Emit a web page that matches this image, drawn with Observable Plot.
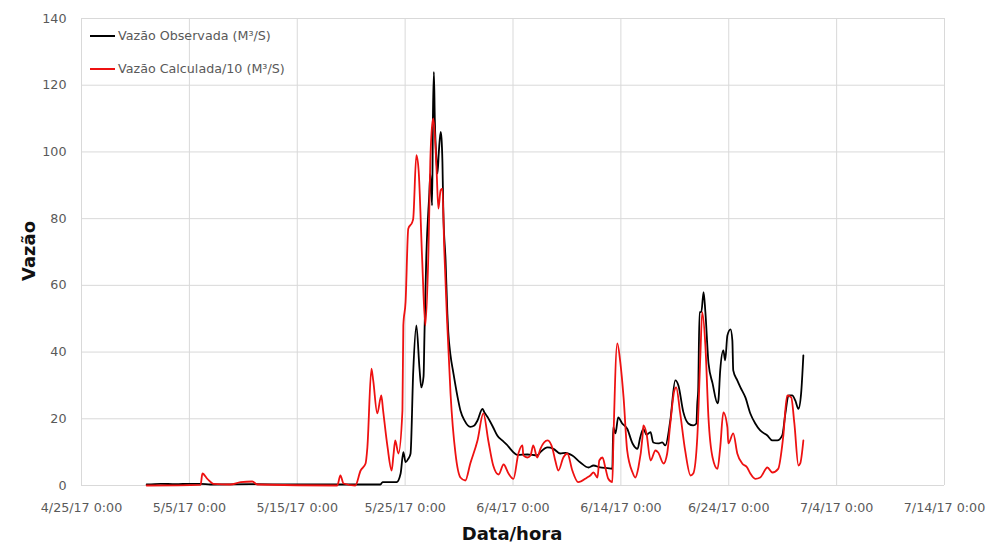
<!DOCTYPE html>
<html>
<head>
<meta charset="utf-8">
<script src="https://cdn.jsdelivr.net/npm/d3@7"></script>
<script src="https://cdn.jsdelivr.net/npm/@observablehq/plot@0.6"></script>
<style>
  body { margin: 0; background: #fff; }
  #wrap { position: relative; width: 990px; height: 544px; overflow: hidden; }
  .leg { position: absolute; left: 90px; font-family: "DejaVu Sans", sans-serif; font-size: 12.7px; color: #595959; display: flex; align-items: center; white-space: nowrap; }
  .leg i { display: inline-block; width: 25px; height: 2px; margin-right: 3px; }
  .title { position: absolute; font-family: "DejaVu Sans", sans-serif; font-weight: bold; font-size: 18px; color: #111; white-space: nowrap; }
</style>
</head>
<body>
<div id="wrap"></div>
<script>
// ---- data ----
const seriesNames = ["Vazão Observada (M³/S)", "Vazão Calculada/10 (M³/S)"];
const seriesColors = ["#000000", "#ee1111"];

const obsTimes = [
"2017-05-01 01","2017-05-02 08","2017-05-03 17","2017-05-05 02","2017-05-06 01","2017-05-06 23","2017-05-10 16","2017-05-15 07",
"2017-05-22 17","2017-05-22 22","2017-05-24 05","2017-05-24 14","2017-05-24 20","2017-05-25 01","2017-05-25 07","2017-05-25 12",
"2017-05-25 18","2017-05-26 01","2017-05-26 08","2017-05-26 12","2017-05-26 17","2017-05-26 19","2017-05-26 23","2017-05-27 06",
"2017-05-27 08","2017-05-27 12","2017-05-27 14","2017-05-27 16","2017-05-27 18","2017-05-27 22","2017-05-28 00","2017-05-28 03",
"2017-05-28 07","2017-05-28 09","2017-05-28 11","2017-05-28 13","2017-05-28 18","2017-05-28 22","2017-05-29 00","2017-05-29 05",
"2017-05-29 11","2017-05-29 20","2017-05-30 03","2017-05-30 12","2017-05-31 01","2017-05-31 10","2017-05-31 17","2017-06-01 04",
"2017-06-01 08","2017-06-01 15","2017-06-02 04","2017-06-02 13","2017-06-03 00","2017-06-03 12","2017-06-03 18","2017-06-04 10",
"2017-06-05 08","2017-06-06 06","2017-06-06 13","2017-06-07 05","2017-06-07 18","2017-06-08 09","2017-06-08 21","2017-06-09 12",
"2017-06-10 06","2017-06-11 00","2017-06-11 11","2017-06-12 02","2017-06-12 18","2017-06-13 05","2017-06-13 07","2017-06-13 12",
"2017-06-13 18","2017-06-14 03","2017-06-14 14","2017-06-15 02","2017-06-15 13","2017-06-15 19","2017-06-16 02","2017-06-16 09",
"2017-06-16 18","2017-06-17 00","2017-06-17 11","2017-06-17 20","2017-06-18 03","2017-06-18 14","2017-06-19 01","2017-06-19 08",
"2017-06-19 19","2017-06-20 06","2017-06-20 17","2017-06-21 00","2017-06-21 02","2017-06-21 04","2017-06-21 07","2017-06-21 11",
"2017-06-21 16","2017-06-21 20","2017-06-22 03","2017-06-22 12","2017-06-22 23","2017-06-23 01","2017-06-23 05","2017-06-23 12",
"2017-06-23 16","2017-06-23 21","2017-06-24 04","2017-06-24 08","2017-06-24 10","2017-06-24 19","2017-06-25 02","2017-06-25 13",
"2017-06-26 00","2017-06-26 11","2017-06-26 22","2017-06-27 14","2017-06-28 01","2017-06-28 12","2017-06-28 23","2017-06-29 06",
"2017-06-29 13","2017-06-29 21","2017-06-30 04","2017-06-30 11","2017-06-30 17","2017-06-30 22"
];
const obsValues = [
0.3,0.5,0.4,0.5,0.5,0.3,0.4,0.3,
0.3,1.0,1.0,3.6,10,7,8,9.5,
34,48,35,29.4,32.7,45,68,88,
93.5,84,112,124,110,97,93.5,100,
106,104,97,82,67.5,51.5,46,39,
34,27,22.5,19.5,17.6,18,19.5,23,
22,20.6,17.4,15,13.5,12,11,9.2,
9.3,9,10,11.4,11,9.6,9.8,9,
6.9,5.4,6,5.4,5.2,5,17.5,15.6,
20.4,18.6,17,12.6,11,14.4,17,15.2,
16,12.9,12.6,12.9,12,19.5,31.5,30,
22,18.6,18,18.6,24.6,28.5,52,52,
58,52,36.6,30.6,24.6,25.5,34.5,40.5,
37.5,45,46.8,43.5,34.5,31.5,29.4,26.4,
21.6,18.6,16.5,15,13.5,13.5,15,21.6,
27,27,25.5,23,27.6,39
];

const calcTimes = [
"2017-05-01 01","2017-05-06 01","2017-05-06 05","2017-05-06 16","2017-05-07 06","2017-05-08 19","2017-05-09 18","2017-05-10 20",
"2017-05-11 07","2017-05-18 17","2017-05-19 00","2017-05-19 07","2017-05-20 09","2017-05-20 21","2017-05-21 08","2017-05-21 12",
"2017-05-21 21","2017-05-22 01","2017-05-22 10","2017-05-22 19","2017-05-22 23","2017-05-23 09","2017-05-23 18","2017-05-23 22",
"2017-05-24 02","2017-05-24 09","2017-05-24 18","2017-05-24 20","2017-05-25 01","2017-05-25 07","2017-05-25 16","2017-05-25 18",
"2017-05-26 01","2017-05-26 06","2017-05-26 14","2017-05-26 21","2017-05-27 04","2017-05-27 08","2017-05-27 13","2017-05-27 15",
"2017-05-27 22","2017-05-28 02","2017-05-28 07","2017-05-28 11","2017-05-28 15","2017-05-28 22","2017-05-29 05","2017-05-29 16",
"2017-05-30 03","2017-05-30 14","2017-05-31 01","2017-05-31 17","2017-06-01 06","2017-06-01 17","2017-06-02 04","2017-06-02 16",
"2017-06-03 03","2017-06-03 14","2017-06-04 01","2017-06-04 12","2017-06-04 21","2017-06-04 23","2017-06-05 08","2017-06-05 15",
"2017-06-05 21","2017-06-06 06","2017-06-06 13","2017-06-07 05","2017-06-07 16","2017-06-07 22","2017-06-08 05","2017-06-08 16",
"2017-06-09 01","2017-06-09 12","2017-06-10 01","2017-06-10 21","2017-06-11 04","2017-06-11 11","2017-06-11 20","2017-06-12 00",
"2017-06-12 07","2017-06-12 14","2017-06-12 20","2017-06-13 05","2017-06-13 07","2017-06-13 16","2017-06-13 23","2017-06-14 06",
"2017-06-14 14","2017-06-15 02","2017-06-15 08","2017-06-15 15","2017-06-16 00","2017-06-16 02","2017-06-16 09","2017-06-16 18",
"2017-06-17 05","2017-06-17 11","2017-06-17 23","2017-06-18 07","2017-06-18 14","2017-06-18 23","2017-06-19 03","2017-06-19 12",
"2017-06-19 23","2017-06-20 11","2017-06-20 17","2017-06-21 02","2017-06-21 09","2017-06-21 13","2017-06-21 20","2017-06-22 03",
"2017-06-22 12","2017-06-22 23","2017-06-23 05","2017-06-23 12","2017-06-23 21","2017-06-23 23","2017-06-24 10","2017-06-24 19",
"2017-06-25 06","2017-06-25 17","2017-06-26 00","2017-06-26 11","2017-06-26 22","2017-06-27 14","2017-06-28 01","2017-06-28 14",
"2017-06-29 01","2017-06-29 10","2017-06-29 19","2017-06-30 02","2017-06-30 11","2017-06-30 15","2017-06-30 22"
];
const calcValues = [
0,0.2,3.6,2,0.5,0.3,1,1.2,
0.3,0,3,0.6,0,4.5,6.6,11.4,
35,31.5,21.6,27,22.5,11.4,4.5,9,
13.5,9.6,22.5,48,55,77,79,80,
99,94.5,67.5,48,71,97,109,110,
94.5,83,88.5,89,71,47.5,27.6,9.6,
2.4,1.5,6.6,13.5,21.6,13.5,6,3.3,
6.3,3.6,2,9.6,12,9,8.4,9,
12,8.4,11,13.5,11,7.5,4.5,8.4,
9.6,4.5,1,2.4,3,3.9,2.4,7.5,
8.4,5,2,1,11.4,42.6,36.6,26.4,
10.5,3.9,2.4,5.4,14.4,18,15.6,7.5,
10.5,9.9,6.6,9.6,18.6,28.5,29.4,21.6,
10.5,3,3.6,14.4,39.6,52,42,20,
8.4,5,11.4,21.9,17.4,12.6,15.6,9.6,
6.6,5.4,3.6,2,2.4,5.4,3.9,5,
14.4,27,26.4,18.6,6,6.6,13.5
];

const xTickDates = ["2017-04-25","2017-05-05","2017-05-15","2017-05-25","2017-06-04","2017-06-14","2017-06-24","2017-07-04","2017-07-14"];
const xTickLabels = ["4/25/17 0:00","5/5/17 0:00","5/15/17 0:00","5/25/17 0:00","6/4/17 0:00","6/14/17 0:00","6/24/17 0:00","7/4/17 0:00","7/14/17 0:00"];
const yTicks = [0, 20, 40, 60, 80, 100, 120, 140];
const xTitle = "Data/hora";
const yTitle = "Vazão";

// ---- build tables ----
const parseT = d3.timeParse("%Y-%m-%d %H");
const parseD = d3.timeParse("%Y-%m-%d");
const obs = obsTimes.map((t, i) => ({date: parseT(t), value: obsValues[i]}));
const calc = calcTimes.map((t, i) => ({date: parseT(t), value: calcValues[i]}));
const xt = xTickDates.map(parseD);

const chart = Plot.plot({
  width: 990,
  height: 544,
  marginLeft: 81,
  marginRight: 46,
  marginTop: 18,
  marginBottom: 59,
  style: {fontFamily: "DejaVu Sans, sans-serif", fontSize: "12.7px", color: "#595959", background: "#ffffff"},
  x: {type: "time", domain: [xt[0], xt[xt.length - 1]]},
  y: {domain: [0, 140]},
  marks: [
    Plot.gridX({ticks: xt, stroke: "#d9d9d9", strokeOpacity: 1}),
    Plot.gridY({ticks: yTicks, stroke: "#d9d9d9", strokeOpacity: 1}),
    Plot.axisX({ticks: xt, tickSize: 0, tickPadding: 17, label: null,
      tickFormat: d => xTickLabels[xt.findIndex(t => +t === +d)]}),
    Plot.axisY({ticks: yTicks, tickSize: 0, tickPadding: 15, label: null}),
    Plot.line(obs, {x: "date", y: "value", stroke: seriesColors[0], strokeWidth: 1.8, curve: "monotone-x"}),
    Plot.line(calc, {x: "date", y: "value", stroke: seriesColors[1], strokeWidth: 1.8, curve: "monotone-x"})
  ]
});

const wrap = document.getElementById("wrap");
wrap.appendChild(chart);

// legend
[36, 69].forEach((top, i) => {
  const d = document.createElement("div");
  d.className = "leg";
  d.style.top = (top - 8) + "px";
  d.innerHTML = `<i style="background:${seriesColors[i]}"></i><span>${seriesNames[i]}</span>`;
  wrap.appendChild(d);
});

// axis titles
const xt1 = document.createElement("div");
xt1.className = "title";
xt1.textContent = xTitle;
xt1.style.left = "512px";
xt1.style.top = "533px";
xt1.style.transform = "translate(-50%, -50%)";
wrap.appendChild(xt1);

const yt1 = document.createElement("div");
yt1.className = "title";
yt1.textContent = yTitle;
yt1.style.left = "28px";
yt1.style.top = "251px";
yt1.style.transform = "translate(-50%, -50%) rotate(-90deg)";
wrap.appendChild(yt1);
</script>
</body>
</html>
